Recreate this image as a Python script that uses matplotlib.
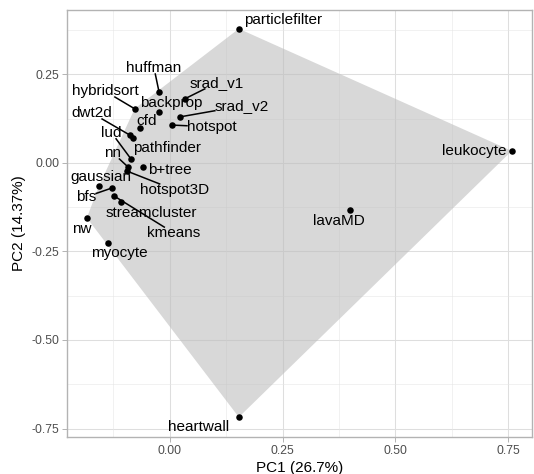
import numpy as np
import matplotlib
matplotlib.use("Agg")
import matplotlib.pyplot as plt

plt.rcParams['font.family'] = ['Liberation Sans', 'DejaVu Sans']

# PCA scores per benchmark
names = ["particlefilter", "leukocyte", "heartwall", "lavaMD", "huffman",
         "srad_v1", "hybridsort", "backprop", "srad_v2", "cfd", "hotspot",
         "dwt2d", "pathfinder", "lud", "nn", "hotspot3D", "b+tree",
         "gaussian", "bfs", "streamcluster", "kmeans", "nw", "myocyte"]
pc1 = [0.153, 0.758, 0.153, 0.399, -0.024,
       0.033, -0.078, -0.024, 0.022, -0.067, 0.004,
       -0.089, -0.082, -0.086, -0.093, -0.095, -0.060,
       -0.157, -0.129, -0.109, -0.124, -0.184, -0.137]
pc2 = [0.379, 0.034, -0.718, -0.133, 0.201,
       0.181, 0.153, 0.144, 0.130, 0.099, 0.107,
       0.079, 0.071, 0.011, -0.011, -0.023, -0.011,
       -0.065, -0.071, -0.110, -0.093, -0.155, -0.226]

# where the repelled labels ended up
label_x = [0.251, 0.676, 0.064, 0.375, -0.035,
           0.104, -0.144, 0.004, 0.160, -0.051, 0.093,
           -0.173, -0.007, -0.129, -0.126, 0.011, 0.000,
           -0.153, -0.186, -0.040, 0.009, -0.195, -0.111]
label_y = [0.404, 0.034, -0.746, -0.164, 0.268,
           0.226, 0.203, 0.169, 0.161, 0.119, 0.102,
           0.141, 0.042, 0.085, 0.028, -0.076, -0.020,
           -0.040, -0.096, -0.141, -0.198, -0.186, -0.254]
with_segment = ["huffman", "srad_v1", "hybridsort", "srad_v2", "hotspot",
                "dwt2d", "lud", "nn", "hotspot3D", "bfs", "kmeans"]

x_ticks = [0.00, 0.25, 0.50, 0.75]
y_ticks = [-0.75, -0.50, -0.25, 0.00, 0.25]


def convex_hull(pts):
    pts = sorted(set(pts))

    def cross(o, a, b):
        return (a[0]-o[0])*(b[1]-o[1]) - (a[1]-o[1])*(b[0]-o[0])
    lower, upper = [], []
    for p in pts:
        while len(lower) >= 2 and cross(lower[-2], lower[-1], p) <= 0:
            lower.pop()
        lower.append(p)
    for p in reversed(pts):
        while len(upper) >= 2 and cross(upper[-2], upper[-1], p) <= 0:
            upper.pop()
        upper.append(p)
    return lower[:-1] + upper[:-1]


fig = plt.figure(figsize=(5.34, 4.74), dpi=100)
ax = fig.add_axes([67/534, 37/474, (532-67)/534, (437-10)/474])

ax.set_xlim(-0.228, 0.803)
ax.set_ylim(-0.774, 0.432)

# grid like theme_light
for v in x_ticks:
    ax.axvline(v, color='#DEDEDE', lw=0.75, zorder=0)
for v in y_ticks:
    ax.axhline(v, color='#DEDEDE', lw=0.75, zorder=0)
for v in np.arange(-0.125, 0.8, 0.25):
    ax.axvline(v, color='#E6E6E6', lw=0.4, zorder=0)
for v in np.arange(-0.625, 0.43, 0.25):
    ax.axhline(v, color='#E6E6E6', lw=0.4, zorder=0)

hull = convex_hull(list(zip(pc1, pc2)))
ax.fill([p[0] for p in hull], [p[1] for p in hull],
        color='#BEBEBE', alpha=0.6, lw=0, zorder=1)

ax.scatter(pc1, pc2, s=22, color='black', zorder=3, linewidths=0)

texts = []
for n, lx, ly in zip(names, label_x, label_y):
    t = ax.text(lx, ly, n, fontsize=11, ha='center', va='center',
                color='black', zorder=4)
    texts.append(t)

# segments from point to the edge of its label box
fig.canvas.draw()
renderer = fig.canvas.get_renderer()
inv = ax.transData.inverted()
for n, px, py, t in zip(names, pc1, pc2, texts):
    if n not in with_segment:
        continue
    bb = t.get_window_extent(renderer).expanded(1.0, 0.85)
    p0 = ax.transData.transform((px, py))
    c = np.array([(bb.x0 + bb.x1)/2, (bb.y0 + bb.y1)/2])
    d = c - p0
    # find where the line enters the box
    ts = []
    for k, lo, hi in [(0, bb.x0, bb.x1), (1, bb.y0, bb.y1)]:
        if d[k] != 0:
            for edge in (lo, hi):
                s = (edge - p0[k]) / d[k]
                q = p0 + s*d
                o = 1 - k
                lo2, hi2 = (bb.y0, bb.y1) if o == 1 else (bb.x0, bb.x1)
                if 0 <= s <= 1 and lo2 - 0.01 <= q[o] <= hi2 + 0.01:
                    ts.append(s)
    s_end = min(ts) if ts else 1.0
    p1 = p0 + s_end*d
    a = inv.transform(p0)
    b = inv.transform(p1)
    ax.plot([a[0], b[0]], [a[1], b[1]], color='black', lw=1.1, zorder=2)

ax.set_xticks(x_ticks)
ax.set_xticklabels([f"{v:.2f}" for v in x_ticks])
ax.set_yticks(y_ticks)
ax.set_yticklabels([f"{v:.2f}" for v in y_ticks])
ax.tick_params(colors='#B3B3B3', width=0.7, length=3.5, labelsize=8.8,
               labelcolor='#4D4D4D', pad=2)
for sp in ax.spines.values():
    sp.set_color('#B3B3B3')
    sp.set_linewidth(1.0)

ax.set_xlabel("PC1 (26.7%)", fontsize=11, labelpad=3)
ax.set_ylabel("PC2 (14.37%)", fontsize=11, labelpad=4)

fig.savefig("out.png", dpi=100)
